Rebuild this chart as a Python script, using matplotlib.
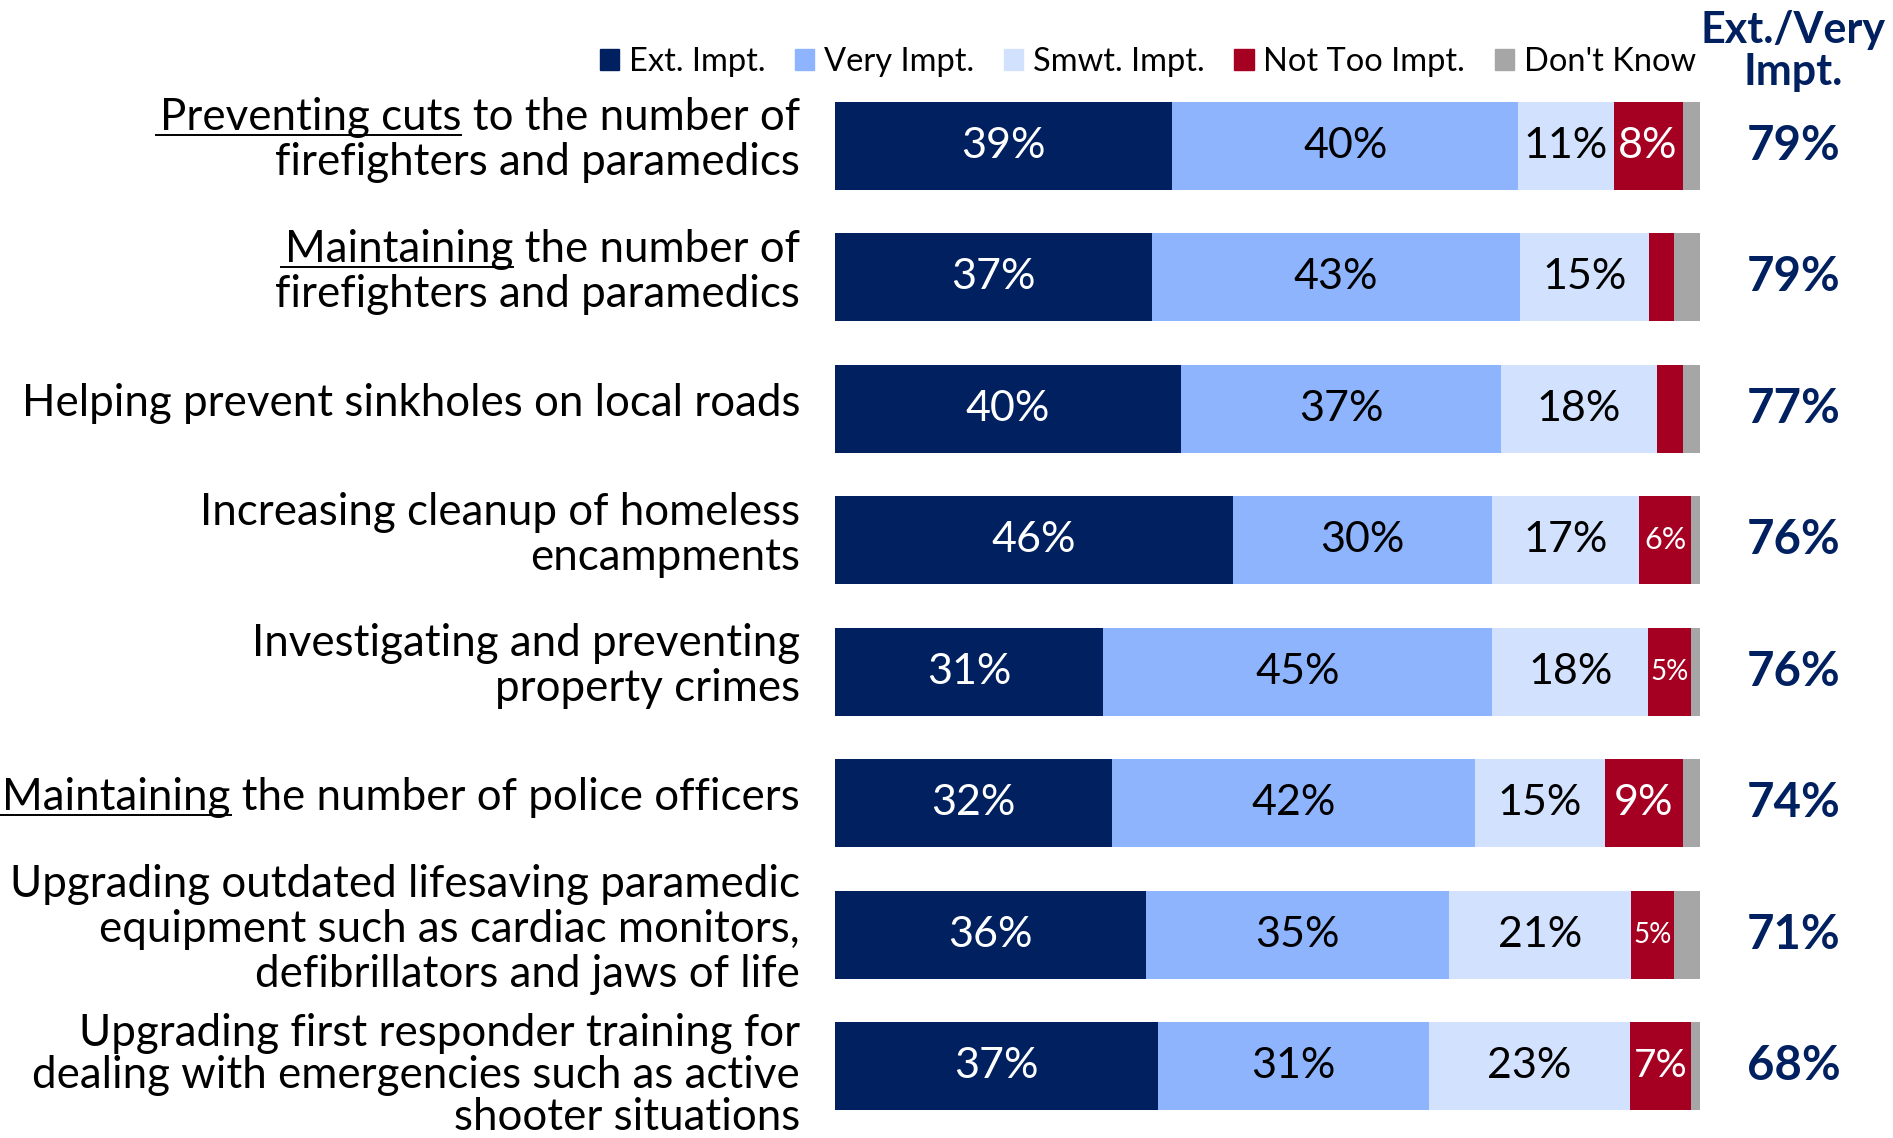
import matplotlib.pyplot as plt
from matplotlib.patches import Patch
from matplotlib.lines import Line2D
import numpy as np

plt.rcParams['font.family'] = ['Lato', 'DejaVu Sans']

# Data (text in [brackets] is underlined)
categories = [
    ["[Preventing cuts] to the number of", "firefighters and paramedics"],
    ["[Maintaining] the number of", "firefighters and paramedics"],
    ["Helping prevent sinkholes on local roads"],
    ["Increasing cleanup of homeless", "encampments"],
    ["Investigating and preventing", "property crimes"],
    ["[Maintaining] the number of police officers"],
    ["Upgrading outdated lifesaving paramedic", "equipment such as cardiac monitors,",
     "defibrillators and jaws of life"],
    ["Upgrading first responder training for", "dealing with emergencies such as active",
     "shooter situations"],
]
series = ['Ext. Impt.', 'Very Impt.', 'Smwt. Impt.', 'Not Too Impt.', "Don't Know"]
ext = [39, 37, 40, 46, 31, 32, 36, 37]
very = [40, 43, 37, 30, 45, 42, 35, 31]
smwt = [11, 15, 18, 17, 18, 15, 21, 23]
not_too = [8, 3, 3, 6, 5, 9, 5, 7]
dont_know = [2, 3, 2, 1, 1, 2, 3, 1]
ext_very = [79, 79, 77, 76, 76, 74, 71, 68]

colors = ['#002060', '#8EB4FE', '#D2E1FD', '#A50021', '#A6A6A6']
text_colors = ['white', 'black', 'black', 'white', 'black']
navy = '#002060'

fig = plt.figure(figsize=(18.93, 11.38), dpi=100)
ax = fig.add_axes([835 / 1893, 6 / 1138, 865 / 1893, 1052 / 1138])

data = np.array([ext, very, smwt, not_too, dont_know], dtype=float)
shares = data / data.sum(axis=0) * 100  # 100% stacked like the original
y = np.arange(len(categories))
left = np.zeros(len(categories))
small_sizes = {7: 28, 6: 22, 5: 20}  # small red segments get shrunk labels
for k in range(len(series)):
    ax.barh(y, shares[k], left=left, height=0.67, color=colors[k], label=series[k])
    for i in range(len(y)):
        v = int(data[k, i])
        if k == 4 or (k == 3 and v < 5):
            continue
        fs = 31
        if k == 3:
            fs = small_sizes.get(v, 31)
        ax.text(left[i] + shares[k, i] / 2, i, f'{v}%', ha='center', va='center',
                fontsize=fs, color=text_colors[k])
    left += shares[k]

ax.set_xlim(0, 100)
ax.set_ylim(len(categories) - 0.5, -0.5)
ax.axis('off')

# Ext./Very column
for i, v in enumerate(ext_very):
    ax.text(110.8, i, f'{v}%', ha='center', va='center', fontsize=34,
            fontweight='bold', color=navy, clip_on=False)
fig.text(1793 / 1893, 1 - 51 / 1138, 'Ext./Very\nImpt.', ha='center', va='center',
         fontsize=31, fontweight='bold', color=navy, linespacing=1.05)

# legend
handles = [Patch(color=c) for c in colors]
fig.legend(handles, series, ncol=5, loc='center right',
           bbox_to_anchor=(1696 / 1893, 1 - 62 / 1138), frameon=False, fontsize=23.5,
           handlelength=0.6, handleheight=0.6, handletextpad=0.3, columnspacing=0.9,
           borderaxespad=0, borderpad=0)

# category labels, one text per line
label_fs = 31.6
lines_info = []
for i, lines in enumerate(categories):
    n = len(lines)
    pitch, shift = 45, 7
    if i == len(categories) - 1:
        pitch, shift = 42, 22
    for j, line in enumerate(lines):
        base_px = shift + (j - (n - 1) / 2) * pitch  # px below bar center
        under = ''
        if line.startswith('['):
            under = line[1:line.index(']')]
            line = line.replace('[', '').replace(']', '')
        t = ax.annotate(line, xy=(0, i), xycoords='data',
                        xytext=(-35 * 0.72, -base_px * 0.72), textcoords='offset points',
                        ha='right', va='baseline', fontsize=label_fs, annotation_clip=False)
        if under:
            lines_info.append((t, under, i, base_px))

fig.canvas.draw()
renderer = fig.canvas.get_renderer()
for t, under, i, base_px in lines_info:
    bb = t.get_window_extent(renderer)
    tmp = fig.text(0, 0, under, fontsize=label_fs)
    w = tmp.get_window_extent(renderer).width
    tmp.remove()
    yb = ax.transData.transform((0, i))[1] - base_px - 5
    x0, x1 = max(bb.x0 - 4, 0), bb.x0 + w
    p0 = fig.transFigure.inverted().transform((x0, yb))
    p1 = fig.transFigure.inverted().transform((x1, yb))
    fig.add_artist(Line2D([p0[0], p1[0]], [p0[1], p1[1]], color='black', lw=1.4,
                          transform=fig.transFigure))

plt.savefig('out.png', dpi=100)
